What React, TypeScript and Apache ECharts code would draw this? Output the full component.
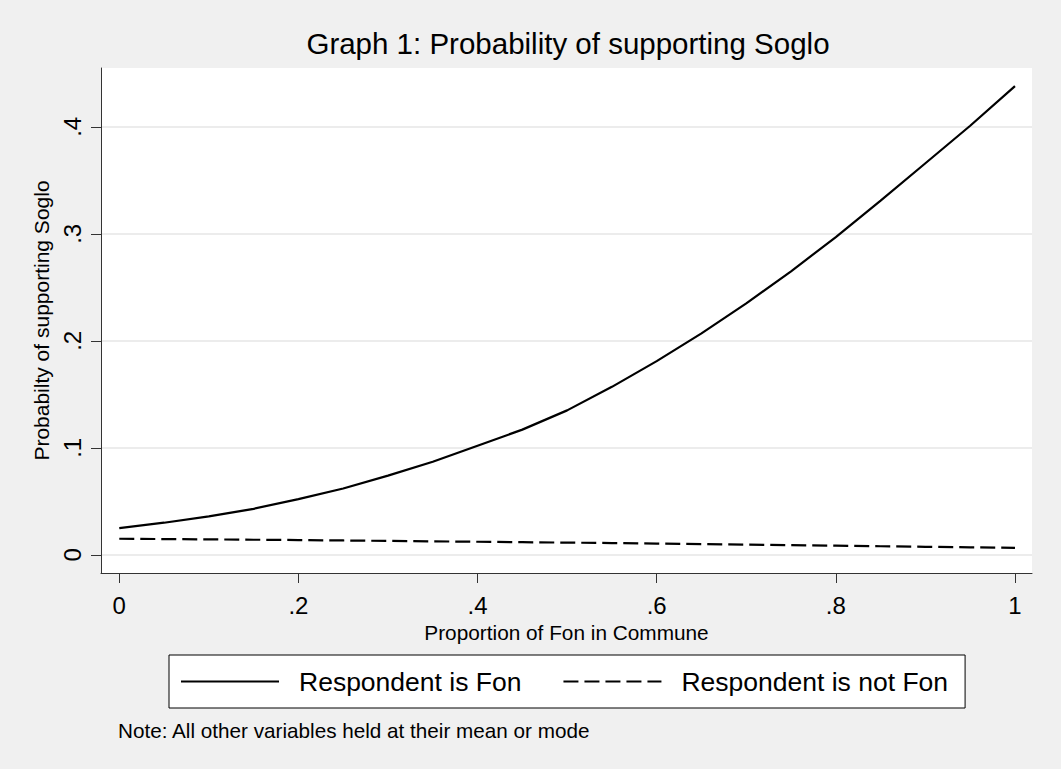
import React, { useEffect, useRef } from "react";
import * as echarts from "echarts";

const xValues = [0, 0.05, 0.1, 0.15, 0.2, 0.25, 0.3, 0.35, 0.4, 0.45, 0.5, 0.55, 0.6, 0.65, 0.7, 0.75, 0.8, 0.85, 0.9, 0.95, 1];
const fonProb = [0.025, 0.030, 0.036, 0.043, 0.052, 0.062, 0.074, 0.087, 0.102, 0.117, 0.135, 0.157, 0.181, 0.207, 0.235, 0.265, 0.297, 0.331, 0.366, 0.401, 0.438];
const notFonProb = [0.0150, 0.0147, 0.0144, 0.0141, 0.0138, 0.0134, 0.0130, 0.0126, 0.0122, 0.0118, 0.0114, 0.0110, 0.0105, 0.0100, 0.0095, 0.0090, 0.0085, 0.0080, 0.0075, 0.0070, 0.0065];
const xTicks = [0, 0.2, 0.4, 0.6, 0.8, 1];
const yTicks = [0, 0.1, 0.2, 0.3, 0.4];
const seriesNames = ["Respondent is Fon", "Respondent is not Fon"];

const FONT = '"Liberation Sans", Arial, Helvetica, sans-serif';
const fmt = (v: number) => {
  if (v === 0) return "0";
  if (v === 1) return "1";
  return String(Math.round(v * 10) / 10).replace(/^0\./, ".");
};

export default function App() {
  const ref = useRef<HTMLDivElement>(null);
  useEffect(() => {
    if (!ref.current) return;
    const chart = echarts.init(ref.current, undefined, { renderer: "svg" });
    chart.setOption({
      animation: false,
      backgroundColor: "#f0f0f0",
      title: {
        text: "Graph 1: Probability of supporting Soglo",
        left: 568,
        top: 28,
        textAlign: "center",
        padding: 0,
        textStyle: { fontFamily: FONT, fontSize: 29.5, fontWeight: "normal", color: "#000" },
      },
      legend: {
        left: 169,
        top: 655,
        orient: "horizontal",
        backgroundColor: "#fff",
        borderColor: "#000",
        borderWidth: 1,
        padding: [13, 17, 13, 11],
        itemWidth: 98,
        itemHeight: 26,
        itemGap: 41,
        itemStyle: { color: "rgba(0,0,0,0)", borderWidth: 0, opacity: 0 },
        textStyle: { fontFamily: FONT, fontSize: 26.5, color: "#000", padding: [0, 0, 0, 15] },
        data: seriesNames,
      },
      graphic: [
        {
          type: "text",
          left: 118,
          top: 720,
          style: { text: "Note: All other variables held at their mean or mode", fontFamily: FONT, fontSize: 20.7, fill: "#000" },
        },
      ],
      grid: {
        left: 101,
        right: 29,
        top: 68,
        bottom: 196,
        show: true,
        backgroundColor: "#fff",
        borderWidth: 0,
      },
      xAxis: {
        type: "value",
        min: -0.0204,
        max: 1.019,
        name: "Proportion of Fon in Commune",
        nameLocation: "middle",
        nameGap: 46,
        nameTextStyle: { fontFamily: FONT, fontSize: 20.8, color: "#000" },
        axisLine: { show: true, onZero: false, lineStyle: { color: "#333", width: 1 } },
        axisTick: { show: true, length: 10, customValues: xTicks, lineStyle: { color: "#333", width: 1 } },
        axisLabel: { customValues: xTicks, margin: 20, fontFamily: FONT, fontSize: 24, color: "#000", formatter: fmt },
        splitLine: { show: false },
      },
      yAxis: {
        type: "value",
        min: -0.017,
        max: 0.455,
        name: "Probabilty of supporting Soglo",
        nameLocation: "middle",
        nameGap: 43,
        nameRotate: 90,
        nameTextStyle: { fontFamily: FONT, fontSize: 21, color: "#000" },
        axisLine: { show: true, onZero: false, lineStyle: { color: "#333", width: 1 } },
        axisTick: { show: true, length: 10, customValues: yTicks, lineStyle: { color: "#333", width: 1 } },
        axisLabel: { customValues: yTicks, rotate: 90, margin: 17, fontFamily: FONT, fontSize: 24, color: "#000", formatter: fmt },
        splitLine: { show: true, lineStyle: { color: "#e6e6e6", width: 1.5 } },
      },
      series: [
        {
          name: seriesNames[0],
          type: "line",
          symbol: "none",
          data: xValues.map((x, i) => [x, fonProb[i]]),
          lineStyle: { color: "#000", width: 2.2, type: "solid" },
          itemStyle: { color: "#000" },
        },
        {
          name: seriesNames[1],
          type: "line",
          symbol: "none",
          data: xValues.map((x, i) => [x, notFonProb[i]]),
          lineStyle: { color: "#000", width: 2.2, type: [15, 6] },
          itemStyle: { color: "#000" },
        },
      ],
    });
    return () => chart.dispose();
  }, []);
  return <div ref={ref} style={{ position: "fixed", left: 0, top: 0, width: 1061, height: 769 }} />;
}
